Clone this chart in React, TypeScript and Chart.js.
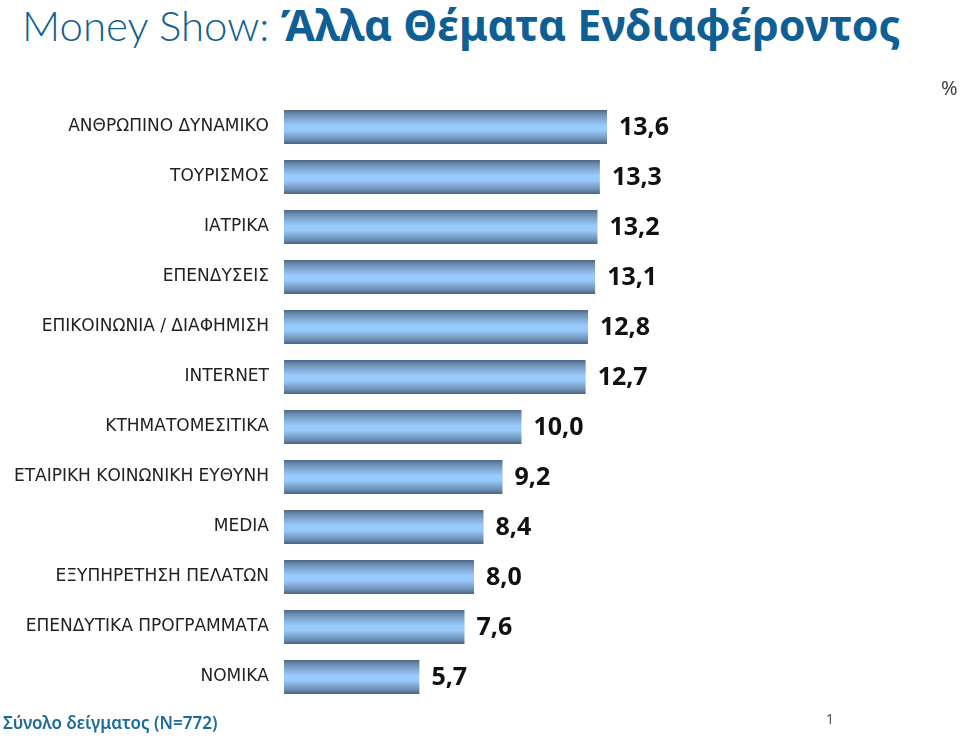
import React, { useEffect, useRef } from "react";
import { Chart, registerables } from "chart.js";

Chart.register(...registerables);

const categories = [
  "ΑΝΘΡΩΠΙΝΟ ΔΥΝΑΜΙΚΟ",
  "ΤΟΥΡΙΣΜΟΣ",
  "ΙΑΤΡΙΚΑ",
  "ΕΠΕΝΔΥΣΕΙΣ",
  "ΕΠΙΚΟΙΝΩΝΙΑ / ΔΙΑΦΗΜΙΣΗ",
  "INTERNET",
  "ΚΤΗΜΑΤΟΜΕΣΙΤΙΚΑ",
  "ΕΤΑΙΡΙΚΗ ΚΟΙΝΩΝΙΚΗ ΕΥΘΥΝΗ",
  "MEDIA",
  "ΕΞΥΠΗΡΕΤΗΣΗ ΠΕΛΑΤΩΝ",
  "ΕΠΕΝΔΥΤΙΚΑ ΠΡΟΓΡΑΜΜΑΤΑ",
  "ΝΟΜΙΚΑ",
];
const values = [13.6, 13.3, 13.2, 13.1, 12.8, 12.7, 10.0, 9.2, 8.4, 8.0, 7.6, 5.7];

const titleLight = "Money Show: ";
const titleBold = "Άλλα Θέματα Ενδιαφέροντος";
const unitLabel = "%";
const footnote = "Σύνολο δείγματος (N=772)";
const pageNumber = "1";

const X_MAX = 15;
const BAR_PCT = 0.68;

const valueLabelPlugin = {
  id: "valueLabels",
  afterDatasetsDraw(chart: any) {
    const ctx = chart.ctx;
    const meta = chart.getDatasetMeta(0);
    ctx.save();
    ctx.fillStyle = "#111";
    ctx.font = "bold 25px 'Noto Sans', sans-serif";
    ctx.textAlign = "left";
    ctx.textBaseline = "middle";
    meta.data.forEach((el: any, i: number) => {
      const txt = values[i].toFixed(1).replace(".", ",");
      ctx.fillText(txt, el.x + 12, el.y + 1);
    });
    ctx.restore();
  },
};

function App() {
  const ref = useRef<HTMLCanvasElement | null>(null);
  useEffect(() => {
    if (!ref.current) return;
    const chart = new Chart(ref.current, {
      type: "bar",
      data: {
        labels: categories,
        datasets: [
          {
            data: values,
            backgroundColor: (c: any) => {
              const ys = c.chart.scales && c.chart.scales.y;
              if (!ys || ys.height == null) return "#93c6f8";
              const center = ys.getPixelForValue(c.dataIndex);
              const h = (ys.height / categories.length) * BAR_PCT;
              const g = c.chart.ctx.createLinearGradient(0, center - h / 2, 0, center + h / 2);
              g.addColorStop(0, "#4d6684");
              g.addColorStop(0.12, "#6b8cb0");
              g.addColorStop(0.45, "#98cafb");
              g.addColorStop(0.6, "#98cafb");
              g.addColorStop(0.88, "#6b8cb0");
              g.addColorStop(1, "#4a6380");
              return g;
            },
            borderWidth: 0,
            barPercentage: BAR_PCT,
            categoryPercentage: 1,
          },
        ],
      },
      options: {
        indexAxis: "y",
        animation: false,
        responsive: false,
        maintainAspectRatio: false,
        layout: { padding: { top: 102, bottom: 36, left: 0, right: 960 - 284 - X_MAX * 23.75 } },
        plugins: { legend: { display: false }, tooltip: { enabled: false }, title: { display: false } },
        scales: {
          x: { display: false, min: 0, max: X_MAX },
          y: {
            grid: { display: false, drawTicks: false },
            border: { display: false },
            ticks: {
              padding: 15,
              color: "#222",
              font: { family: "'DejaVu Sans', sans-serif", size: 17 },
            },
            afterFit: (s: any) => {
              s.width = 284;
            },
          },
        },
      } as any,
      plugins: [valueLabelPlugin],
    });
    return () => chart.destroy();
  }, []);

  return (
    <div style={{ position: "fixed", left: 0, top: 0, width: 960, height: 738, background: "#fff", overflow: "hidden" }}>
      <div
        style={{
          position: "absolute",
          left: 22,
          top: -5,
          fontFamily: "Lato, 'Noto Sans', sans-serif",
          fontSize: 42,
          color: "#0f5f94",
          whiteSpace: "nowrap",
        }}
      >
        <span style={{ fontWeight: 300 }}>{titleLight}</span>
        <span style={{ fontWeight: 700, fontStyle: "normal", fontFamily: "'Noto Sans', sans-serif", fontSize: 43 }}>
          {titleBold}
        </span>
      </div>
      <canvas ref={ref} width={960} height={738} style={{ position: "absolute", left: 0, top: 0 }} />
      <div style={{ position: "absolute", left: 941, top: 74, fontFamily: "'Noto Sans', sans-serif", fontSize: 20, color: "#444" }}>
        {unitLabel}
      </div>
      <div
        style={{
          position: "absolute",
          left: 3,
          top: 711,
          fontFamily: "'Noto Sans', sans-serif",
          fontWeight: 600,
          fontSize: 17,
          color: "#1a6a9e",
          whiteSpace: "nowrap",
        }}
      >
        {footnote}
      </div>
      <div style={{ position: "absolute", left: 826, top: 709, fontFamily: "'Noto Sans', sans-serif", fontSize: 14, color: "#555" }}>
        {pageNumber}
      </div>
    </div>
  );
}

export default App;
